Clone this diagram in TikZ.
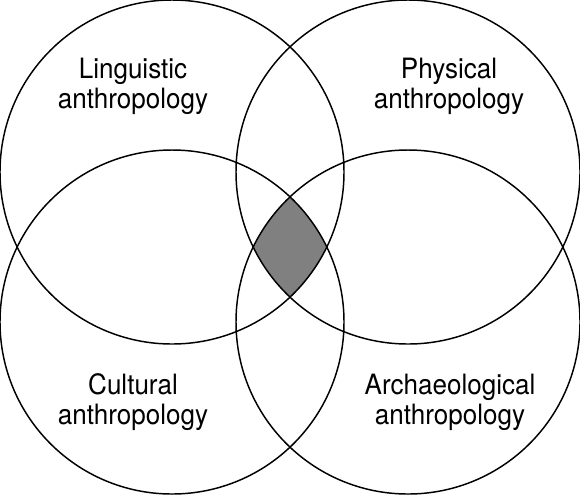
\documentclass[tikz,border=0pt]{standalone}
\usepackage{fontspec}
\setmainfont{TeX Gyre Heros}[FakeStretch=0.93]
\usepackage{tikz}
\usetikzlibrary{positioning}

\tikzset{
  field/.style={draw, line width=1.1pt},
  fieldname/.style={align=center, inner sep=0pt, font=\fontsize{21}{22.5}\selectfont},
  overlap/.style={fill=black!50}
}

\begin{document}
\begin{tikzpicture}[x=0.75pt, y=-0.75pt]
	\useasboundingbox (0, 0) rectangle (580, 494);
	\coordinate (ling) at (172, 172);
	\coordinate (phys) at (408, 172);
	\coordinate (cult) at (172, 322);
	\coordinate (arch) at (408, 322);
	
	% common part of the four fields
	\begin{scope}
		\clip (ling) circle [radius=172];
		\clip (phys) circle [radius=172];
		\clip (cult) circle [radius=172];
		\fill[overlap] (arch) circle [radius=172];
	\end{scope}
	
	\draw[field] (ling) circle [radius=172];
	\draw[field] (phys) circle [radius=172];
	\draw[field] (cult) circle [radius=172];
	\draw[field] (arch) circle [radius=172];
	
	\node[fieldname] at (133, 86.5) (lingname) {Linguistic\\anthropology};
	\node[fieldname] at (449, 86.5) (physname) {Physical\\anthropology};
	\node[fieldname] at (133, 402) (cultname) {Cultural\\anthropology};
	\node[fieldname] at (450, 402) (archname) {Archaeological\\anthropology};
\end{tikzpicture}
\end{document}
